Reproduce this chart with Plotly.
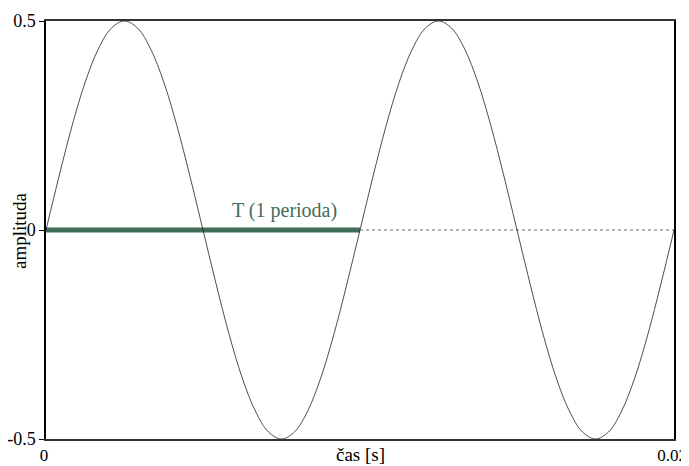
import plotly.graph_objects as go

# casove okamziky [s] a odectene hodnoty amplitudy (po 1/24 periody)
cas = [0.0, 0.000417, 0.000833, 0.00125, 0.001667, 0.002083, 0.0025,
       0.002917, 0.003333, 0.00375, 0.004167, 0.004583, 0.005,
       0.005417, 0.005833, 0.00625, 0.006667, 0.007083, 0.0075,
       0.007917, 0.008333, 0.00875, 0.009167, 0.009583, 0.01,
       0.010417, 0.010833, 0.01125, 0.011667, 0.012083, 0.0125,
       0.012917, 0.013333, 0.01375, 0.014167, 0.014583, 0.015,
       0.015417, 0.015833, 0.01625, 0.016667, 0.017083, 0.0175,
       0.017917, 0.018333, 0.01875, 0.019167, 0.019583, 0.02]
amplituda = [0.0, 0.129, 0.25, 0.354, 0.433, 0.483, 0.5,
             0.483, 0.433, 0.354, 0.25, 0.129, 0.0,
             -0.129, -0.25, -0.354, -0.433, -0.483, -0.5,
             -0.483, -0.433, -0.354, -0.25, -0.129, 0.0,
             0.129, 0.25, 0.354, 0.433, 0.483, 0.5,
             0.483, 0.433, 0.354, 0.25, 0.129, 0.0,
             -0.129, -0.25, -0.354, -0.433, -0.483, -0.5,
             -0.483, -0.433, -0.354, -0.25, -0.129, 0.0]

perioda_x = [0.0, 0.01]
perioda_y = [0.0, 0.0]
zbytek_x = [0.01, 0.02]
zbytek_y = [0.0, 0.0]

popisek = "T (1 perioda)"
popisek_x = 0.0076

y_ticks = [-0.5, 0, 0.5]
y_labels = ["-0.5", "0", "0.5"]
x_ticks = [0, 0.02]
x_labels = ["0", "0.02"]

zelena = "#3f6e58"
font = "Liberation Serif, Times New Roman, serif"

fig = go.Figure()

fig.add_trace(go.Scatter(
    x=zbytek_x, y=zbytek_y, mode="lines",
    line=dict(color="#666666", width=1, dash="dot"),
    hoverinfo="skip"
))
fig.add_trace(go.Scatter(
    x=perioda_x, y=perioda_y, mode="lines",
    line=dict(color=zelena, width=5),
))
fig.add_trace(go.Scatter(
    x=cas, y=amplituda, mode="lines",
    line=dict(color="#222222", width=0.8, shape="spline", smoothing=1.0),
))

fig.add_annotation(
    x=popisek_x, y=0, text=popisek, showarrow=False,
    yshift=20, font=dict(color=zelena, size=20, family=font)
)
fig.add_annotation(
    x=0.5, y=-0.038, xref="paper", yref="paper", text="čas [s]",
    showarrow=False, yanchor="middle", font=dict(size=19, family=font, color="black")
)
fig.add_annotation(
    x=-0.043, y=0.5, xref="paper", yref="paper", text="amplituda",
    showarrow=False, textangle=-90, xanchor="center", yanchor="middle",
    font=dict(size=19, family=font, color="black")
)

# stranka ma 8px okraj vlevo a nahore
fig.update_layout(
    width=689, height=458,
    margin=dict(l=38, r=23, t=13, b=27, autoexpand=False),
    paper_bgcolor="white", plot_bgcolor="white",
    showlegend=False,
    font=dict(family=font, size=18, color="black"),
)
fig.update_xaxes(
    range=[0, 0.02], tickvals=x_ticks, ticktext=x_labels,
    showgrid=False, zeroline=False, showline=True, mirror=True,
    linecolor="#333333", linewidth=1.5, ticks="", ticklen=0,
    automargin=False, ticklabeloverflow="allow",
    tickfont=dict(size=17), ticklabelshift=-2,
)
fig.update_yaxes(
    range=[-0.5, 0.5], tickvals=y_ticks, ticktext=y_labels,
    showgrid=False, zeroline=False, showline=True, mirror=True,
    linecolor="black", linewidth=1.5, ticks="outside", ticklen=5,
    tickcolor="black", automargin=False, ticklabeloverflow="allow",
)

# bez posuvniku, aby nic neorezaval
fig.write_html(
    "out.html",
    post_script="document.documentElement.style.overflow='hidden';"
                "document.body.style.overflow='hidden';",
)
